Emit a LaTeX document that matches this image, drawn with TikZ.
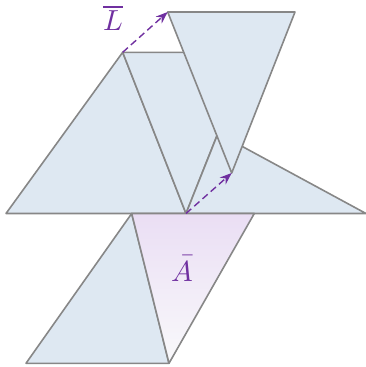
\documentclass[tikz,border=0pt]{standalone}
\usepackage{unicode-math}
\setmathfont{Latin Modern Math}
\usetikzlibrary{arrows.meta}
\definecolor{tri}{RGB}{222,232,242}
\definecolor{edge}{RGB}{135,135,135}
\definecolor{vio}{RGB}{112,48,160}
\definecolor{gtop}{RGB}{234,222,244}
\definecolor{gbot}{RGB}{249,249,251}
\tikzset{
  tri/.style={fill=tri, draw=edge, line width=1.6pt, line join=round},
  vec/.style={draw=vio, line width=1.4pt, dash pattern=on 7pt off 4pt, -{Stealth[length=12pt,width=9pt]}},
  lbl/.style={text=vio, inner sep=0pt, font=\fontsize{29}{34}\selectfont}
}
\begin{document}
\begin{tikzpicture}[x=1pt,y=-1pt]
\useasboundingbox (0,0) rectangle (366,367);
% vertices
\coordinate (la) at (6,213.5);
\coordinate (P) at (122.7,52.3);
\coordinate (Q) at (250,52.3);
\coordinate (O) at (186,213.5);
\coordinate (rr) at (366,213.5);
\coordinate (ra) at (218,133.3);
\coordinate (P1) at (167.7,12);
\coordinate (Q1) at (295,12);
\coordinate (O1) at (231.7,173);
\coordinate (b1) at (131.7,213.5);
\coordinate (b2) at (254.3,213.5);
\coordinate (b3) at (169,363.3);
\coordinate (b4) at (26,363.3);
% shapes
\path[tri] (la) -- (P) -- (O) -- cycle;
\path[tri] (P) -- (Q) -- (O) -- cycle;
\path[tri] (O) -- (rr) -- (ra) -- cycle;
\path[tri] (P1) -- (Q1) -- (O1) -- cycle;
\path[tri] (b1) -- (b4) -- (b3) -- cycle;
\shade[top color=gtop, bottom color=gbot] (b1) -- (b2) -- (b3) -- cycle;
\draw[draw=edge, line width=1.6pt, line join=round] (b1) -- (b2) -- (b3) -- cycle;
\draw[draw=edge, line width=1.6pt] (la) -- (rr);
% vectors
\draw[vec] (P) -- (P1);
\draw[vec] (O) -- (O1);
% labels
\node[lbl] (L) at (113,18) {$\overline{L}$};
\node[lbl] (A) at (182.5,268) {$\bar{A}$};
\end{tikzpicture}
\end{document}
